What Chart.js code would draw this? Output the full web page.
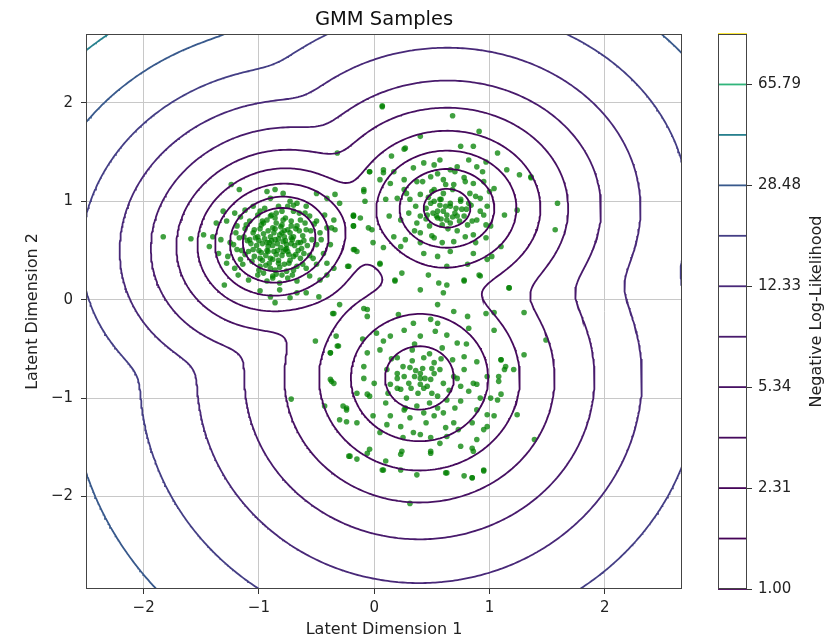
<!DOCTYPE html>
<html><head><meta charset="utf-8">
<script src="https://cdn.jsdelivr.net/npm/chart.js@4.4.1/dist/chart.umd.min.js"></script>
<style>
html,body{margin:0;padding:0;background:#fff;}
#wrap{position:relative;width:839px;height:640px;overflow:hidden;}
#main{position:absolute;left:0;top:0;}
#cbar{position:absolute;left:700px;top:0;}
</style></head><body>
<div id="wrap"><canvas id="main" width="839" height="640"></canvas><canvas id="cbar" width="139" height="640"></canvas></div>
<script>
// ---------- data ----------
const titleText = 'GMM Samples';
const xTitle = 'Latent Dimension 1';
const yTitle = 'Latent Dimension 2';
const cbTitle = 'Negative Log-Likelihood';
const xTicks = [-2, -1, 0, 1, 2];
const yTicks = [-2, -1, 0, 1, 2];
const xRange = [-2.5, 2.67];
const yRange = [-2.94, 2.70];
const levels = [1.00, 1.52, 2.31, 3.51, 5.34, 8.11, 12.33, 18.74, 28.48, 43.29, 65.79, 100.0];
const cbTicks = [1.00, 2.31, 5.34, 12.33, 28.48, 65.79];
const compWeight = [0.35, 0.325, 0.325];
const compMeanX = [-0.825, 0.632, 0.393];
const compMeanY = [0.61, 0.93, -0.795];
const compSdX = [0.283, 0.35, 0.41];
const compSdY = [0.29, 0.34, 0.443];
const compRho = [0.08, 0.0, 0.0];

const samplesA = [[-1.24,1.17],[-1.17,1.12],[-0.93,1.10],[-0.86,1.12],[-0.79,1.08],[-0.90,1.03],[-0.73,1.00],[-0.67,0.98],[-0.59,0.95],[-0.50,1.08],[-0.41,1.03],[-0.34,1.07],[-0.30,0.98],
[-1.31,0.90],[-1.21,0.88],[-1.12,0.91],[-1.05,0.95],[-0.99,0.90],[-0.90,0.85],[-0.85,0.88],[-0.77,0.83],[-0.70,0.90],[-0.64,0.81],[-0.56,0.85],[-0.50,0.80],[-0.43,0.86],[-0.35,0.81],[-0.37,0.73],
[-1.37,0.78],[-1.28,0.80],[-1.19,0.75],[-1.11,0.76],[-1.04,0.71],[-0.96,0.78],[-0.88,0.73],[-0.80,0.76],[-0.75,0.71],[-0.67,0.75],[-0.59,0.71],[-0.47,0.68],[-0.41,0.73],[-0.34,0.71],
[-1.48,0.66],[-1.40,0.64],[-1.33,0.61],[-1.25,0.58],[-1.17,0.63],[-1.08,0.61],[-1.01,0.64],[-0.93,0.58],[-0.86,0.61],[-0.79,0.59],[-0.72,0.63],[-0.64,0.58],[-0.54,0.61],[-0.46,0.61],[-0.38,0.56],
[-1.43,0.54],[-1.35,0.47],[-1.27,0.44],[-1.19,0.51],[-1.12,0.46],[-1.05,0.51],[-0.99,0.42],[-0.92,0.49],[-0.85,0.46],[-0.77,0.51],[-0.70,0.44],[-0.61,0.47],[-0.53,0.42],[-0.44,0.47],
[-1.28,0.37],[-1.21,0.32],[-1.14,0.36],[-1.06,0.39],[-0.99,0.34],[-0.90,0.32],[-0.83,0.37],[-0.76,0.29],[-0.67,0.34],[-0.59,0.32],[-0.50,0.36],[-0.41,0.37],[-0.35,0.32],
[-1.30,0.15],[-1.18,0.25],[-1.09,0.20],[-1.01,0.25],[-0.93,0.19],[-0.88,0.24],[-0.82,0.17],[-0.75,0.22],[-0.67,0.19],[-0.56,0.24],[-0.47,0.20],[-0.41,0.25],
[-0.99,0.09],[-0.90,0.03],[-0.82,0.10],[-0.73,0.02],[-0.67,0.07],[-0.59,0.07],[-0.48,0.03],[-0.86,-0.03],[-0.30,-0.05],
[-1.83,0.64],[-1.59,0.62],[-0.22,0.34],[-0.18,0.85],[-0.18,0.75],[-0.17,0.51],
[-0.95,0.62],[-0.88,0.55],[-0.82,0.66],[-0.76,0.52],[-0.70,0.64],[-0.92,0.70],[-0.85,0.78],[-0.78,0.70],[-0.72,0.80],[-1.02,0.55],[-0.98,0.48],[-0.90,0.42],[-0.80,0.45],[-0.73,0.40],[-0.66,0.50],[-0.62,0.65],[-0.60,0.78],[-1.05,0.68],[-1.10,0.60],[-0.97,0.80],[-0.89,0.86],[-0.80,0.90],[-0.68,0.72],[-0.84,0.50],[-0.94,0.35],[-0.86,0.30],[-0.77,0.60],[-0.83,0.40],[-0.87,0.68],[-0.74,0.46],[-0.99,0.72],[-1.04,0.44],[-0.66,0.58],[-0.91,0.58],[-0.80,0.25],[-0.70,0.30],[-0.64,0.42],[-0.58,0.55],[-1.15,0.50],[-1.12,0.72],[-0.95,0.93],[-0.75,0.95],[-0.65,0.88],[-0.55,0.70],[-0.78,0.36],[-0.88,0.22],[-0.96,0.27],[-0.72,0.57],[-0.81,0.74],[-0.93,0.50],
[-1.00,0.60],[-0.96,0.67],[-0.90,0.64],[-0.84,0.57],[-0.78,0.64],[-0.73,0.68],[-0.69,0.55],[-0.75,0.49],[-0.81,0.53],[-0.87,0.49],[-0.94,0.45],[-1.00,0.50],[-1.07,0.57],[-1.03,0.63],[-0.98,0.76],[-0.93,0.81],[-0.86,0.83],[-0.79,0.81],[-0.72,0.75],[-0.65,0.70],[-0.61,0.60],[-0.63,0.52],[-0.68,0.46],[-0.74,0.37],[-0.82,0.33],[-0.91,0.37],[-0.97,0.40],[-1.09,0.49],[-1.13,0.64],[-1.08,0.80],[-1.01,0.86],[-0.83,0.95],[-0.70,0.96],[-0.60,0.88],[-0.52,0.77],[-0.50,0.56],[-0.56,0.45],[-0.62,0.36],[-0.71,0.25],[-0.85,0.26],[-1.00,0.30],[-1.16,0.41],[-1.22,0.56],[-1.20,0.68],[-1.16,0.84],[-0.89,0.60],[-0.80,0.68],[-0.86,0.72],[-0.76,0.56],[-0.92,0.54],[-0.71,0.61],[-0.97,0.57],[-0.83,0.62],[-0.79,0.49],[-0.88,0.41]];

const samplesB = [[0.07,1.97],[0.68,1.87],[0.91,1.71],[0.40,1.66],[0.75,1.56],[0.86,1.56],[0.26,1.53],[1.07,1.49],
[0.08,1.32],[0.17,1.30],[0.34,1.34],[0.43,1.39],[0.52,1.37],[0.57,1.42],[0.66,1.32],[0.72,1.35],[0.82,1.42],[0.89,1.35],[0.97,1.40],[0.94,1.30],[1.15,1.32],[1.26,1.27],[1.36,1.24],[-0.04,1.30],[-0.09,1.12],
[0.05,1.22],[0.14,1.18],[0.26,1.22],[0.37,1.20],[0.49,1.25],[0.60,1.22],[0.69,1.17],[0.78,1.24],[0.86,1.18],[0.95,1.20],[1.04,1.13],[0.26,1.12],[0.52,1.12],[-0.08,1.00],
[0.10,1.02],[0.20,1.03],[0.31,1.02],[0.40,1.07],[0.49,0.98],[0.57,1.02],[0.66,0.95],[0.75,1.00],[0.84,0.96],[0.92,1.03],[0.98,0.95],[1.13,0.86],[-0.18,0.86],[-0.12,0.83],
[0.13,0.85],[0.23,0.81],[0.37,0.78],[0.46,0.86],[0.55,0.83],[0.63,0.81],[0.72,0.85],[0.81,0.76],[0.89,0.81],[0.95,0.86],[1.01,0.75],[-0.18,0.75],[-0.05,0.73],
[0.17,0.64],[0.27,0.61],[0.40,0.68],[0.52,0.63],[0.59,0.58],[0.69,0.59],[0.79,0.64],[0.88,0.58],[0.97,0.63],[0.23,0.54],[0.08,0.53],[-0.01,0.58],
[0.43,0.47],[0.55,0.44],[0.66,0.49],[0.86,0.47],[0.98,0.41],[-0.15,0.49],[0.05,0.36],[0.81,0.36],
[1.59,0.98],[1.57,0.71],[1.36,1.25],[1.24,0.91],[1.10,0.54],[0.92,0.24],[0.78,0.19],[0.63,0.34],[1.02,0.44],
[0.55,0.90],[0.62,0.95],[0.70,0.88],[0.58,0.82],[0.66,0.78],[0.52,1.00],[0.75,1.02],[0.45,0.93],[0.80,0.92],[0.60,1.08],[0.68,1.12],[0.48,0.75],[0.72,0.70],[0.85,0.80],[0.40,0.85],[0.63,0.86],[0.57,0.96],[0.78,0.85],[0.50,1.10],[0.88,1.05],
[0.60,0.90],[0.66,0.98],[0.71,0.93],[0.54,0.85],[0.58,1.02],[0.74,0.80],[0.47,1.04],[0.83,1.08],[0.36,0.95],[0.92,0.90],[0.64,0.72],[0.50,0.65],[0.79,1.20],[0.42,1.20],[0.30,0.88],[1.00,1.10],[0.70,1.30],[0.55,1.28],[0.86,0.66],[0.35,0.70],[0.62,1.17],[0.76,0.92],[0.51,0.88],[0.68,0.84],[0.59,0.76],[0.45,0.82],[0.82,0.98],[0.97,0.76],[0.28,1.08],[0.40,0.58]];

const samplesMid = [[-0.04,1.30],[-0.09,1.10],[0.08,1.29],[-0.18,0.85],[-0.02,0.71],[-0.18,0.51],[0.05,0.37],[-0.23,0.34],[0.18,0.20],[-0.36,-0.14],[-0.06,-0.10],[-0.32,1.49],[0.07,1.96],[0.27,1.54],[0.15,1.46],[1.17,0.12],[1.30,-0.13]];

const samplesC = [[0.24,0.27],[0.47,0.25],[0.56,0.17],[0.63,0.15],[0.78,0.20],[0.91,0.25],[0.40,0.10],[0.60,0.07],[1.17,0.12],[0.18,0.19],
[-0.35,-0.14],[-0.09,-0.09],[-0.06,-0.17],[0.21,-0.15],[0.34,-0.24],[0.55,-0.05],[0.69,-0.12],[0.81,-0.17],[0.97,-0.14],[1.04,-0.13],[0.49,-0.20],[0.55,-0.24],
[-0.33,-0.37],[0.02,-0.34],[0.08,-0.42],[0.14,-0.37],[0.26,-0.31],[0.40,-0.37],[0.53,-0.32],[0.63,-0.36],[0.72,-0.44],[0.82,-0.29],[1.04,-0.31],[-0.31,-0.47],
[-0.38,-0.54],[-0.09,-0.68],[-0.06,-0.54],[0.05,-0.51],[0.20,-0.59],[0.33,-0.51],[0.43,-0.59],[0.52,-0.64],[0.59,-0.49],[0.68,-0.61],[0.78,-0.58],[0.89,-0.63],[1.10,-0.61],[1.14,-0.68],
[-0.38,-0.81],[-0.35,-0.85],[-0.09,-0.80],[0.11,-0.71],[0.20,-0.75],[0.26,-0.78],[0.31,-0.69],[0.40,-0.75],[0.49,-0.81],[0.57,-0.71],[0.69,-0.78],[0.78,-0.71],[0.86,-0.85],[0.98,-0.78],[1.08,-0.78],[1.13,-0.71],[1.21,-0.71],
[-0.06,-0.96],[-0.04,-0.98],[0.14,-0.86],[0.23,-0.91],[0.40,-0.86],[0.43,-0.90],[0.50,-0.95],[0.63,-1.02],[0.75,-0.88],[0.82,-0.93],[0.89,-0.86],[1.01,-1.00],[1.10,-0.96],
[-0.27,-1.08],[-0.24,-1.12],[-0.24,-1.24],[-0.15,-1.25],[-0.01,-1.18],[0.14,-1.18],[0.26,-1.12],[0.31,-1.20],[0.37,-1.08],[0.43,-1.15],[0.52,-1.18],[0.60,-1.15],[0.69,-1.25],[0.75,-1.03],[0.89,-1.12],[1.04,-1.18],[0.98,-1.29],
[0.11,-1.27],[0.23,-1.29],[0.34,-1.35],[0.40,-1.37],[0.49,-1.40],[0.63,-1.39],[0.73,-1.32],[0.75,-1.49],[0.89,-1.42],[0.95,-1.32],[0.57,-1.46],
[-0.21,-1.59],[-0.15,-1.62],[-0.04,-1.52],[0.24,-1.54],[0.23,-1.57],[0.49,-1.54],[0.86,-1.54],[0.10,-1.64],[0.08,-1.73],[0.23,-1.73],[0.37,-1.78],[0.63,-1.76],[0.95,-1.73],[0.78,-1.79],[0.85,-1.81],
[-0.51,-0.42],[-0.38,-0.54],[-0.32,-0.47],[-0.37,-0.83],[-0.43,-1.08],[-0.72,-1.01],[-0.24,-1.10],[-0.30,-1.22],[-0.22,-1.59],[-0.06,-1.56],[0.07,-1.73],[0.31,-2.07],
[1.10,-0.61],[1.08,-0.83],[1.07,-1.02],[0.98,-1.17],[1.24,-1.17],[1.39,-1.42],[1.30,-0.56],[1.49,-0.41],[0.85,-1.51],[0.85,-1.81],[0.95,-1.74],[0.62,-1.76],[0.49,-1.56],
[0.35,-0.78],[0.42,-0.70],[0.30,-0.85],[0.46,-0.88],[0.38,-0.95],[0.25,-0.68],[0.52,-0.75],[0.33,-0.62],[0.28,-1.00],[0.55,-0.98],[0.44,-0.80],[0.36,-0.72],[0.20,-0.90],[0.60,-0.85],[0.48,-1.05],
[0.40,-0.80],[0.32,-0.90],[0.50,-0.70],[0.58,-0.60],[0.20,-0.80],[0.15,-0.60],[0.65,-0.92],[0.70,-1.10],[0.10,-1.05],[0.45,-1.25],[0.25,-1.40],[0.80,-0.45],[0.00,-0.85],[-0.10,-0.40],[0.92,-1.00],[0.35,-0.45],[0.62,-1.30],[0.05,-1.35],[0.48,-0.55],[0.27,-1.10],[0.72,-0.80],[0.12,-0.95],[0.55,-1.10],[0.85,-1.25],[-0.15,-0.95]];

// ---------- styles ----------
const levelColors = ['#440154','#440256','#450559','#460a5d','#471163','#481a6c','#482878','#443e85','#38598c','#27808e','#30b57b','#fde725'];
const FONT = 'DejaVu Sans';

// ---------- GMM negative log-likelihood + marching squares ----------
function nll(x, y) {
  let s = 0;
  for (let k = 0; k < compWeight.length; k++) {
    const r = compRho[k], q = 1 - r * r;
    const dx = (x - compMeanX[k]) / compSdX[k], dy = (y - compMeanY[k]) / compSdY[k];
    const m = (dx * dx - 2 * r * dx * dy + dy * dy) / q;
    s += compWeight[k] / (2 * Math.PI * compSdX[k] * compSdY[k] * Math.sqrt(q)) * Math.exp(-0.5 * m);
  }
  return -Math.log(s);
}
const NX = 240, NY = 240;
const gx = [], gy = [];
for (let i = 0; i < NX; i++) gx.push(xRange[0] + (xRange[1] - xRange[0]) * i / (NX - 1));
for (let j = 0; j < NY; j++) gy.push(yRange[0] + (yRange[1] - yRange[0]) * j / (NY - 1));
const Z = new Float64Array(NX * NY);
for (let j = 0; j < NY; j++) for (let i = 0; i < NX; i++) Z[j * NX + i] = nll(gx[i], gy[j]);

function contour(L) {
  const pts = new Map(), adj = new Map();
  const zv = (i, j) => Z[j * NX + i];
  function node(t, i, j) {
    const k = t + i + '_' + j;
    if (!pts.has(k)) {
      let p;
      if (t === 'h') { const a = zv(i, j), b = zv(i + 1, j), f = (L - a) / (b - a); p = { x: gx[i] + f * (gx[i + 1] - gx[i]), y: gy[j] }; }
      else { const a = zv(i, j), b = zv(i, j + 1), f = (L - a) / (b - a); p = { x: gx[i], y: gy[j] + f * (gy[j + 1] - gy[j]) }; }
      pts.set(k, p); adj.set(k, []);
    }
    return k;
  }
  function link(a, b) { adj.get(a).push(b); adj.get(b).push(a); }
  for (let j = 0; j < NY - 1; j++) for (let i = 0; i < NX - 1; i++) {
    const v0 = zv(i, j), v1 = zv(i + 1, j), v2 = zv(i + 1, j + 1), v3 = zv(i, j + 1);
    const b0 = v0 >= L, b1 = v1 >= L, b2 = v2 >= L, b3 = v3 >= L;
    const c = (b0 ? 1 : 0) | (b1 ? 2 : 0) | (b2 ? 4 : 0) | (b3 ? 8 : 0);
    if (c === 0 || c === 15) continue;
    const e = [];
    e[0] = b0 !== b1 ? node('h', i, j) : null;
    e[1] = b1 !== b2 ? node('v', i + 1, j) : null;
    e[2] = b3 !== b2 ? node('h', i, j + 1) : null;
    e[3] = b0 !== b3 ? node('v', i, j) : null;
    const list = e.filter(q => q !== null);
    if (list.length === 2) link(list[0], list[1]);
    else if (list.length === 4) {
      const hi = (v0 + v1 + v2 + v3) / 4 >= L;
      if ((c === 5 && hi) || (c === 10 && !hi)) { link(e[0], e[1]); link(e[2], e[3]); }
      else { link(e[3], e[0]); link(e[1], e[2]); }
    }
  }
  const seen = new Set(), out = [];
  function walk(start) {
    const line = [pts.get(start)]; seen.add(start);
    let cur = start;
    for (;;) {
      const nb = adj.get(cur).find(n => !seen.has(n));
      if (nb === undefined) { if (adj.get(cur).includes(start) && line.length > 2) line.push(pts.get(start)); break; }
      seen.add(nb); line.push(pts.get(nb)); cur = nb;
    }
    out.push(line);
  }
  for (const [k, n] of adj) if (n.length === 1 && !seen.has(k)) walk(k);
  for (const k of adj.keys()) if (!seen.has(k)) walk(k);
  const data = [];
  out.forEach(line => { data.push(...line); data.push({ x: null, y: null }); });
  return data;
}

const contourSets = levels.map((L, i) => ({
  data: contour(L), showLine: true, borderColor: levelColors[i], borderWidth: 1.8,
  pointRadius: 0, spanGaps: false, tension: 0, order: 0
}));
const allSamples = samplesA.concat(samplesB, samplesMid, samplesC).map(p => ({ x: p[0], y: p[1] }));
const sampleSet = { data: allSamples, pointRadius: 2.8, pointBackgroundColor: 'rgba(0,128,0,0.75)', pointBorderWidth: 0, showLine: false, order: 1 };

const fmt = v => (v < 0 ? '\u2212' + Math.abs(v) : String(v));

const frame = { id: 'frame', afterDatasetsDraw(ch) {
  const a = ch.chartArea, c = ch.ctx; c.save(); c.strokeStyle = '#444'; c.lineWidth = 1;
  c.strokeRect(Math.round(a.left) + 0.5, Math.round(a.top) + 0.5, Math.round(a.right - a.left) - 1, Math.round(a.bottom - a.top) - 1); c.restore(); } };
const title = { id: 'ttl', afterDraw(ch) {
  const a = ch.chartArea, c = ch.ctx; c.save(); c.fillStyle = '#111'; c.font = '19.5px "' + FONT + '"';
  c.textAlign = 'center'; c.textBaseline = 'alphabetic'; c.fillText(titleText, (a.left + a.right) / 2, 25); c.restore(); } };

new Chart(document.getElementById('main'), {
  type: 'scatter',
  data: { datasets: [...contourSets, sampleSet] },
  options: {
    responsive: false, animation: false, events: [],
    layout: { padding: { left: 0, top: 34, right: 157, bottom: 0 } },
    plugins: { legend: { display: false }, tooltip: { enabled: false } },
    scales: {
      x: { type: 'linear', min: xRange[0], max: xRange[1],
        afterBuildTicks: s => { s.ticks = xTicks.map(v => ({ value: v })); },
        afterFit: s => { s.height = 51; },
        grid: { color: '#c8c8c8', lineWidth: 1, tickLength: 5, tickColor: '#333', drawTicks: true },
        border: { display: false },
        ticks: { font: { family: FONT, size: 15 }, color: '#222', padding: 5, maxRotation: 0, autoSkip: false, callback: v => fmt(v) },
        title: { display: true, text: xTitle, font: { family: FONT, size: 16 }, color: '#222', padding: { top: 0, bottom: 1 } } },
      y: { type: 'linear', min: yRange[0], max: yRange[1],
        afterBuildTicks: s => { s.ticks = yTicks.map(v => ({ value: v })); },
        afterFit: s => { s.width = 86; },
        grid: { color: '#c8c8c8', lineWidth: 1, tickLength: 5, tickColor: '#333', drawTicks: true },
        border: { display: false },
        ticks: { font: { family: FONT, size: 15 }, color: '#222', padding: 8, autoSkip: false, callback: v => fmt(v) },
        title: { display: true, text: yTitle, font: { family: FONT, size: 16 }, color: '#222', padding: { top: 23, bottom: 0 } } }
    }
  },
  plugins: [frame, title]
});

// ---------- colorbar ----------
const cbFrame = { id: 'cbf', afterDatasetsDraw(ch) {
  const a = ch.chartArea, c = ch.ctx; c.save(); c.strokeStyle = '#444'; c.lineWidth = 1;
  c.strokeRect(Math.round(a.left) + 0.5, Math.round(a.top) + 0.5, Math.round(a.right - a.left) - 1, Math.round(a.bottom - a.top) - 1); c.restore(); } };
const cbLabel = { id: 'cbl', afterDraw(ch) {
  const a = ch.chartArea, c = ch.ctx; c.save(); c.fillStyle = '#222'; c.font = '16px "' + FONT + '"';
  c.translate(117, (a.top + a.bottom) / 2); c.rotate(-Math.PI / 2); c.textAlign = 'center'; c.textBaseline = 'middle';
  c.fillText(cbTitle, 0, 0); c.restore(); } };

new Chart(document.getElementById('cbar'), {
  type: 'scatter',
  data: { datasets: levels.map((L, i) => ({ data: [{ x: 0, y: L }, { x: 1, y: L }], showLine: true, borderColor: levelColors[i], borderWidth: 1.8, pointRadius: 0, clip: 4 })) },
  options: {
    responsive: false, animation: false, events: [],
    layout: { padding: { left: 18, top: 34, right: 0, bottom: 51 } },
    plugins: { legend: { display: false }, tooltip: { enabled: false } },
    scales: {
      x: { display: false, min: 0, max: 1 },
      y: { type: 'logarithmic', position: 'right', min: 1, max: 100,
        afterBuildTicks: s => { s.ticks = cbTicks.map(v => ({ value: v })); },
        afterFit: s => { s.width = 92; },
        grid: { drawOnChartArea: false, drawTicks: true, tickLength: 5, tickColor: '#333' },
        border: { display: false },
        ticks: { font: { family: FONT, size: 15 }, color: '#222', padding: 6, autoSkip: false, callback: v => Number(v).toFixed(2) } }
    }
  },
  plugins: [cbFrame, cbLabel]
});
</script>
</body></html>
